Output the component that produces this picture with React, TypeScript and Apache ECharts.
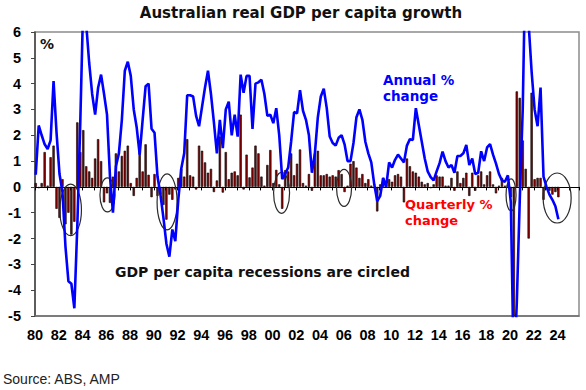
import React, { useEffect, useRef } from 'react';
import * as echarts from 'echarts';

// Position of 1980 Q1 on the year axis; quarters are 0.25 apart
const FIRST_QUARTER = 1980.0625;

// Annual % change (blue line), quarterly from 1980 Q1 to 2024 Q1
const annualChange = [
  0.47, 2.38, 2.0, 1.65, 1.47, 1.8, 4.1, 2.1, 0.5, -0.2,
  -2.3, -3.65, -3.75, -4.7, -1.5, 2.5, 7.2, 6.3, 4.8, 3.6,
  2.8, 3.84, 4.35, 3.6, 2.8, 0.4, -1.0, 0.8, 1.3, 2.6,
  4.5, 4.85, 4.3, 3.0, 2.3, 1.25, 2.6, 3.9, 4.0, 2.25,
  2.1, 0.4, -0.3, -1.2, -2.2, -2.7, -1.65, -2.1, -0.5, 0.7,
  1.3, 3.55, 3.55, 3.5, 2.75, 2.35, 3.1, 3.85, 4.5, 3.6,
  2.5, 1.3, 2.6, 1.5, 3.0, 3.3, 2.0, 2.8, 1.95, 4.35,
  3.65, 4.3, 4.3, 2.25, 4.0, 4.05, 4.15, 3.6, 2.75, 2.8,
  2.47, 3.05, 2.0, 0.3, 0.5, 0.75, 1.75, 2.9, 2.85, 3.75,
  2.95, 2.6, 2.0, 0.55, 1.3, 2.7, 3.5, 3.8, 3.05, 1.95,
  1.7, 1.6, 1.9, 2.0, 1.65, 1.0, 1.0, 1.7, 2.7, 3.0,
  2.6, 1.75, 1.3, 0.95, 0.1, -0.55, -0.35, 0.35, 0.0, 0.95,
  0.75, 1.05, 1.25, 1.1, 0.95, 1.6, 1.85, 1.82, 3.05, 2.4,
  1.75, 1.1, 0.6, 0.38, 0.25, 0.6, 0.92, 1.37, 1.0, 0.75,
  0.85, 0.55, 1.2, 1.2, 1.3, 1.63, 0.85, 1.1, 0.5, 0.55,
  1.38, 1.0, 1.53, 1.66, 1.25, 0.9, 0.5, 0.25, 0.2, 0.45,
  -0.6, -7.3, -4.5, -0.5, 3.0, 9.4, 6.3, 4.45, 3.0, 2.35,
  3.85, 0.4, 0.0, -0.3, -0.5, -0.75, -1.25,
];

// Quarterly % change (dark red bars), 1980 Q1 to 2024 Q1
const quarterlyChange = [
  0.15, -0.05, 0.15, 1.35, 0.05, 1.15, 1.6, -0.85, -1.2, 0.3,
  -1.45, -1.0, -1.85, -1.35, 2.5, 1.35, 2.2, 0.8, 0.6, 0.35,
  1.1, 1.85, 1.0, -0.6, -0.25, -0.62, 0.4, 1.3, 0.6, 1.2,
  1.4, 1.6, 0.15, -0.35, 0.35, 1.8, 0.6, 1.65, 0.47, -0.4,
  0.5, -0.35, -0.3, -0.7, -1.27, -0.3, -0.5, -0.1, 0.35, 0.7,
  0.4, 1.85, 0.45, 0.4, -0.1, 1.6, 1.4, 0.95, 0.55, 0.7,
  -0.2, 0.25, 1.95, -0.22, 1.35, 0.3, 0.55, 0.6, 0.45, 2.8,
  -0.1, 1.25, 0.37, 0.75, 1.6, 1.3, 0.4, 0.05, 0.85, 1.43,
  0.15, 0.66, 0.1, -0.85, 0.65, 0.6, 1.3, 0.45, 0.9, 1.45,
  0.15, 0.05, 0.5, -0.15, 1.3, 1.4, 0.45, 0.45, 0.5, 0.4,
  0.45, 0.4, 0.65, 0.5, -0.2, 0.05, 0.9, 1.0, 0.75, 0.35,
  0.5, 0.15, 0.3, 0.05, -0.05, -0.95, 0.1, 0.35, 0.1, 0.3,
  0.2, 0.45, 0.5, 0.4, -0.6, 1.1, 0.8, 0.6, 0.55, 0.4,
  0.2, 0.1, 0.15, -0.05, 0.1, 0.45, 0.4, 0.4, 0.05, 0.05,
  0.35, -0.15, 0.6, 0.15, 0.35, 0.55, -0.35, 0.55, -0.15, 0.45,
  0.6, 0.1, 0.45, 0.6, 0.1, -0.25, 0.05, 0.35, 0.05, 0.1,
  -0.4, -7.0, 3.7, 3.45, 1.8, 0.7, -2.0, 3.65, 0.3, 0.35,
  0.35, -0.5, -0.05, -0.15, -0.3, -0.2, -0.4,
];

// Axis ranges
const yRange = { min: -5, max: 6, interval: 1 };
const xRange = { min: 1980, max: 2025.8, labelInterval: 2 };

// Recession circles: centre in (year, %) and radii in pixels
const recessionCircles = [
  { year: 1983.0, value: -0.89, rx: 10.8, ry: 25.8 },
  { year: 1986.1, value: -0.31, rx: 7.5, ry: 17 },
  { year: 1991.12, value: -0.58, rx: 10, ry: 28 },
  { year: 2000.76, value: -0.23, rx: 8, ry: 20.5 },
  { year: 2006.02, value: -0.04, rx: 7.5, ry: 18.5 },
  { year: 2020.08, value: -0.31, rx: 5, ry: 16 },
  { year: 2023.96, value: -0.43, rx: 14, ry: 25 },
];

const TITLE = 'Australian real GDP per capita growth';
const SOURCE = 'Source: ABS, AMP';
const ANNUAL_LABEL = 'Annual %\nchange';
const QUARTERLY_LABEL = 'Quarterly %\nchange';
const NOTE = 'GDP per capita recessions are circled';

export default function App() {
  const ref = useRef<HTMLDivElement>(null);

  useEffect(() => {
    if (!ref.current) return;
    const chart = echarts.init(ref.current, null, { renderer: 'svg' });

    const barData = quarterlyChange.map((v, i) => [FIRST_QUARTER + 0.25 * i, v]);
    const lineData = annualChange.map((v, i) => [FIRST_QUARTER + 0.25 * i, v]);

    const axisFont = {
      fontFamily: '"Liberation Sans", Arial, sans-serif',
      fontWeight: 'bold' as const,
      fontSize: 14.5,
      color: '#000',
    };

    chart.setOption({
      animation: false,
      backgroundColor: '#ffffff',
      grid: {
        left: 35,
        right: 7,
        top: 32,
        bottom: 74,
        show: true,
        borderColor: '#8c8c8c',
        borderWidth: 1.5,
        backgroundColor: 'transparent',
      },
      xAxis: [
        {
          type: 'value',
          min: xRange.min,
          max: xRange.max,
          interval: xRange.labelInterval,
          position: 'bottom',
          axisLine: { show: true, onZero: false, lineStyle: { color: '#6e6e6e', width: 1.5 } },
          axisTick: { show: false },
          splitLine: { show: false },
          axisLabel: {
            ...axisFont,
            margin: 11,
            formatter: (v: number) =>
              Number.isInteger(v) && v % 2 === 0 ? String(v % 100).padStart(2, '0') : '',
          },
        },
        {
          type: 'value',
          min: xRange.min,
          max: xRange.max,
          interval: 1,
          position: 'bottom',
          axisLine: { show: true, onZero: true, lineStyle: { color: '#000', width: 1 } },
          axisTick: { show: true, length: 3.5, lineStyle: { color: '#000', width: 1 } },
          axisLabel: { show: false },
          splitLine: { show: false },
        },
      ],
      yAxis: {
        type: 'value',
        min: yRange.min,
        max: yRange.max,
        interval: yRange.interval,
        axisLine: { show: true, onZero: false, lineStyle: { color: '#444', width: 1.5 } },
        axisTick: { show: true, length: 4, lineStyle: { color: '#444', width: 1 } },
        splitLine: { show: false },
        axisLabel: { ...axisFont, margin: 14 },
      },
      series: [
        {
          type: 'bar',
          xAxisIndex: 0,
          yAxisIndex: 0,
          data: barData,
          barWidth: 2.3,
          itemStyle: { color: '#8b0000', borderColor: '#000', borderWidth: 0.6 },
          z: 2,
          silent: true,
        },
        {
          type: 'line',
          xAxisIndex: 0,
          yAxisIndex: 0,
          data: lineData,
          showSymbol: false,
          symbol: 'none',
          lineStyle: { color: '#0000ff', width: 2.6 },
          z: 5,
          silent: true,
        },
      ],
    });

    const toPx = (x: number, y: number): number[] =>
      chart.convertToPixel({ xAxisIndex: 0, yAxisIndex: 0 }, [x, y]) as number[];

    const ellipses = recessionCircles.map((c) => {
      const [cx, cy] = toPx(c.year, c.value);
      return {
        type: 'ellipse',
        shape: { cx, cy, rx: c.rx, ry: c.ry },
        style: { fill: 'transparent', stroke: '#2a2a2a', lineWidth: 1.2 },
        z: 4,
        silent: true,
      };
    });

    const boldFont = (size: number) => `bold ${size}px "DejaVu Sans", Verdana, sans-serif`;
    const text = (
      t: string,
      x: number,
      y: number,
      font: string,
      fill: string,
      align = 'left',
      lineHeight?: number
    ) => ({
      type: 'text',
      z: 6,
      silent: true,
      style: {
        text: t,
        x,
        y,
        font,
        fill,
        textAlign: align,
        textVerticalAlign: 'middle',
        ...(lineHeight ? { lineHeight } : {}),
      },
    });

    chart.setOption({
      graphic: [
        ...ellipses,
        text(TITLE, 301, 13, boldFont(15), '#111', 'center'),
        text('%', 40, 44, boldFont(14), '#111'),
        text(ANNUAL_LABEL, 383, 88, boldFont(13.5), '#0000ff', 'left', 16),
        text(QUARTERLY_LABEL, 405, 212.5, boldFont(13), '#ff0000', 'left', 15.5),
        text(NOTE, 115, 272.3, boldFont(14), '#111'),
        text(SOURCE, 3, 378.7, '14px "Liberation Sans", Arial, sans-serif', '#222'),
      ],
    });

    return () => {
      chart.dispose();
    };
  }, []);

  return (
    <div
      ref={ref}
      style={{ position: 'absolute', left: 0, top: 0, width: 586, height: 390, background: '#fff' }}
    />
  );
}
